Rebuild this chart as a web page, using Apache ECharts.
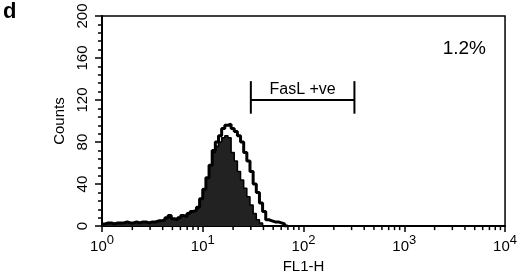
<!DOCTYPE html>
<html>
<head>
<meta charset="utf-8">
<script src="https://cdn.jsdelivr.net/npm/echarts@6/dist/echarts.min.js"></script>
<style>
  html, body { margin: 0; padding: 0; background: #fff; }
  #chart { width: 520px; height: 279px; }
</style>
</head>
<body>
<div id="chart"></div>
<script>
// FL1-H histogram, 32 channels per decade starting at 10^0
const channelsPerDecade = 32;

// shaded histogram (control)
const filledCounts = [
  2, 3, 3, 2, 3, 3, 3, 4, 3, 3,
  4, 3, 4, 4, 3, 4, 4, 5, 5, 6,
  8, 10, 7, 6, 8, 10, 9, 12, 14, 15,
  18, 26, 35, 46, 58, 70, 76, 80, 84, 86,
  84, 70, 62, 52, 44, 36, 28, 20, 12, 6,
  3, 0, 0, 0, 0, 0, 0, 0, 0, 0
];

// open histogram (FasL stained)
const openCounts = [
  2, 3, 3, 2, 3, 3, 3, 4, 3, 3,
  4, 3, 4, 4, 3, 4, 4, 5, 5, 6,
  8, 10, 7, 6, 8, 10, 9, 12, 14, 15,
  18, 26, 35, 46, 58, 72, 80, 86, 93, 96,
  97, 93, 90, 86, 80, 70, 62, 52, 40, 32,
  22, 14, 6, 5, 4, 4, 3, 2, 0, 0
];

const xMin = 1;
const xMax = 10000;
const yTicks = [0, 40, 80, 120, 160, 200];
const minorXTicks = [
  2, 3, 4, 5, 6, 7, 8, 9,
  20, 30, 40, 50, 60, 70, 80, 90,
  200, 300, 400, 500, 600, 700, 800, 900,
  2000, 3000, 4000, 5000, 6000, 7000, 8000, 9000
];

// marker gate
const gateLabel = 'FasL +ve';
const gateRange = [30, 320];
const gateLevel = 120;
const gateCap = [107, 138];
const percentText = '1.2%';

const toSeries = counts => counts.map((c, i) => [Math.pow(10, i / channelsPerDecade), c]);

const chart = echarts.init(document.getElementById('chart'));
const font = 'Liberation Sans, Arial, sans-serif';

const option = {
  animation: false,
  backgroundColor: '#fff',
  textStyle: { fontFamily: font, color: '#000' },
  grid: {
    left: 102, right: 14, top: 16, bottom: 52,
    show: true, borderColor: '#000', borderWidth: 1.5
  },
  graphic: [
    { type: 'text', left: 3, top: 1, style: { text: 'd', font: 'bold 22px ' + font, fill: '#000' } },
    { type: 'text', right: 34, top: 39, style: { text: percentText, font: '19px ' + font, fill: '#000' } }
  ],
  xAxis: {
    type: 'log',
    logBase: 10,
    min: xMin,
    max: xMax,
    name: 'FL1-H',
    nameLocation: 'middle',
    nameGap: 24,
    nameTextStyle: { fontSize: 15, color: '#000', fontFamily: font },
    axisLine: { lineStyle: { color: '#000', width: 2 } },
    axisTick: { show: true, length: 6, lineStyle: { color: '#000', width: 1.5 } },
    axisLabel: {
      margin: 8,
      formatter: v => '{b|10}{s|' + Math.round(Math.log10(v)) + '}',
      rich: {
        b: { fontSize: 15, fontFamily: font, color: '#000', verticalAlign: 'bottom', lineHeight: 20 },
        s: { fontSize: 13, fontFamily: font, color: '#000', verticalAlign: 'top', lineHeight: 20 }
      }
    },
    splitLine: { show: false }
  },
  yAxis: {
    type: 'value',
    min: yTicks[0],
    max: yTicks[yTicks.length - 1],
    interval: 40,
    name: 'Counts',
    nameLocation: 'middle',
    nameGap: 33,
    nameTextStyle: { fontSize: 15, color: '#000', fontFamily: font },
    axisLine: { show: true, lineStyle: { color: '#000', width: 2 } },
    axisTick: { show: true, length: 7, lineStyle: { color: '#000', width: 1.5 } },
    minorTick: { show: true, splitNumber: 5, length: 4, lineStyle: { color: '#000', width: 1.5 } },
    axisLabel: { rotate: 90, margin: 12, fontSize: 15, color: '#000', fontFamily: font },
    splitLine: { show: false }
  },
  series: [
    {
      name: 'control',
      type: 'line',
      step: 'end',
      symbol: 'none',
      data: toSeries(filledCounts),
      lineStyle: { color: '#000', width: 1.5 },
      areaStyle: { color: '#222', opacity: 1 },
      z: 2
    },
    {
      name: 'FasL',
      type: 'line',
      step: 'end',
      symbol: 'none',
      data: toSeries(openCounts),
      lineStyle: { color: '#000', width: 3 },
      z: 3
    },
    {
      // log minor ticks along the x axis
      type: 'custom',
      data: minorXTicks.map(v => [v, 0]),
      silent: true,
      renderItem: (params, api) => {
        const p = api.coord([api.value(0), 0]);
        return {
          type: 'line',
          shape: { x1: p[0], y1: p[1], x2: p[0], y2: p[1] + 4 },
          style: { stroke: '#000', lineWidth: 1.5 }
        };
      },
      z: 4
    },
    {
      // gate marker
      type: 'custom',
      data: [[gateRange[0], gateRange[1], gateLevel]],
      silent: true,
      renderItem: (params, api) => {
        const a = api.coord([api.value(0), gateLevel]);
        const b = api.coord([api.value(1), gateLevel]);
        const aLo = api.coord([api.value(0), gateCap[0]]);
        const aHi = api.coord([api.value(0), gateCap[1]]);
        const bLo = api.coord([api.value(1), gateCap[0]]);
        const bHi = api.coord([api.value(1), gateCap[1]]);
        const mid = api.coord([Math.sqrt(gateRange[0] * gateRange[1]), 122.5]);
        const st = { stroke: '#000', lineWidth: 2 };
        return {
          type: 'group',
          children: [
            { type: 'line', shape: { x1: a[0], y1: a[1], x2: b[0], y2: b[1] }, style: st },
            { type: 'line', shape: { x1: aLo[0], y1: aLo[1], x2: aHi[0], y2: aHi[1] }, style: st },
            { type: 'line', shape: { x1: bLo[0], y1: bLo[1], x2: bHi[0], y2: bHi[1] }, style: st },
            {
              type: 'text',
              style: {
                x: mid[0], y: mid[1], text: gateLabel,
                font: '16px ' + font, fill: '#000',
                textAlign: 'center', textVerticalAlign: 'bottom'
              }
            }
          ]
        };
      },
      z: 5
    }
  ]
};

chart.setOption(option);
</script>
</body>
</html>
